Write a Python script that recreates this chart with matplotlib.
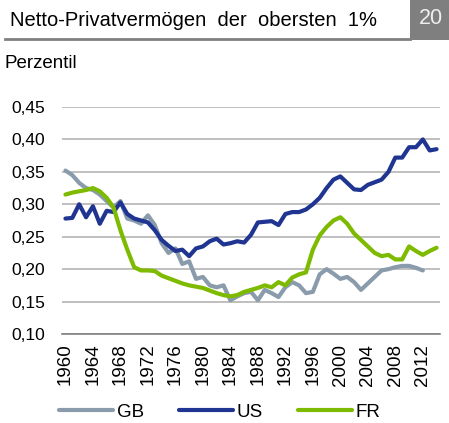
import matplotlib.pyplot as plt
from matplotlib.patches import Rectangle
from matplotlib.lines import Line2D

plt.rcParams["font.family"] = ["Liberation Sans", "DejaVu Sans"]

years = list(range(1960, 2015))

us = [0.278, 0.279, 0.300, 0.280, 0.297, 0.270, 0.290, 0.288, 0.303, 0.285,
      0.278, 0.275, 0.272, 0.260, 0.245, 0.236, 0.228, 0.230, 0.220, 0.232,
      0.235, 0.243, 0.247, 0.238, 0.240, 0.243, 0.241, 0.253, 0.272, 0.273,
      0.274, 0.268, 0.285, 0.288, 0.288, 0.292, 0.300, 0.310, 0.325, 0.338,
      0.343, 0.333, 0.323, 0.322, 0.330, 0.334, 0.338, 0.350, 0.372, 0.372,
      0.388, 0.388, 0.400, 0.383, 0.385]

gb = [0.352, 0.345, 0.333, 0.325, 0.322, 0.315, 0.305, 0.295, 0.305, 0.278,
      0.275, 0.270, 0.283, 0.268, 0.240, 0.225, 0.232, 0.208, 0.212, 0.185,
      0.188, 0.175, 0.172, 0.175, 0.152, 0.158, 0.163, 0.165, 0.152, 0.168,
      0.163, 0.157, 0.172, 0.180, 0.175, 0.163, 0.165, 0.192, 0.200, 0.193,
      0.185, 0.188, 0.180, 0.168, 0.178, 0.188, 0.198, 0.200, 0.203, 0.205,
      0.205, 0.202, 0.198]

fr = [0.315, 0.318, 0.320, 0.322, 0.325, 0.320, 0.310, 0.295, 0.260, 0.230,
      0.203, 0.198, 0.198, 0.197, 0.190, 0.186, 0.182, 0.178, 0.175, 0.173,
      0.171, 0.167, 0.163, 0.160, 0.158, 0.160, 0.165, 0.168, 0.171, 0.175,
      0.172, 0.180, 0.175, 0.187, 0.192, 0.195, 0.230, 0.252, 0.265, 0.275,
      0.280, 0.270, 0.255, 0.245, 0.235, 0.225, 0.220, 0.222, 0.215, 0.215,
      0.235, 0.228, 0.222, 0.228, 0.233]

yticks = [0.10, 0.15, 0.20, 0.25, 0.30, 0.35, 0.40, 0.45]
xticks = list(range(1960, 2013, 4))

c_gb = "#8a9bab"
c_us = "#1f3591"
c_fr = "#7dba00"

fig = plt.figure(figsize=(4.49, 4.23), dpi=100)
ax = fig.add_axes([62 / 449, 1 - 334 / 423, 378 / 449, 227 / 423])

ax.plot(years[:len(gb)], gb, color=c_gb, lw=3, solid_capstyle="round", label="GB")
ax.plot(years, us, color=c_us, lw=3, solid_capstyle="round", label="US")
ax.plot(years, fr, color=c_fr, lw=3, solid_capstyle="round", label="FR")

ax.set_xlim(1959.5, 2014.5)
ax.set_ylim(0.10, 0.45)
ax.set_yticks(yticks)
ax.set_yticklabels([f"{v:.2f}".replace(".", ",") for v in yticks], fontsize=12.5)
ax.set_xticks(xticks)
ax.set_xticklabels([str(y) for y in xticks], rotation=90, fontsize=13.5)
ax.tick_params(axis="y", length=0, pad=12)
ax.tick_params(axis="x", length=0, pad=7)
ax.grid(axis="y", color="#b4b4b4", lw=1.2)
ax.set_axisbelow(True)
for s in ["top", "right", "left"]:
    ax.spines[s].set_visible(False)
ax.spines["bottom"].set_color("#808080")
ax.spines["bottom"].set_linewidth(1.2)
for ln in ax.lines:
    ln.set_clip_on(False)

# title band
fig.text(10 / 449, 1 - 21 / 423, "Netto-Privatvermögen  der  obersten  1%",
         fontsize=14.5, va="center", ha="left")
fig.add_artist(Line2D([5 / 449, 410 / 449], [1 - 39 / 423, 1 - 39 / 423],
                      color="#808080", lw=2))
fig.add_artist(Rectangle((410 / 449, 1 - 40 / 423), 39 / 449, 40 / 423,
                         transform=fig.transFigure, color="#7f7f7f", lw=0))
fig.text(431 / 449, 1 - 18 / 423, "20", fontsize=15.5, color="#eeeeee",
         ha="center", va="center")
fig.text(5 / 449, 1 - 63 / 423, "Perzentil", fontsize=13.5, va="center", ha="left")

fig.legend(loc="center", bbox_to_anchor=(220 / 449, 1 - 412 / 423), ncol=3,
           frameon=False, fontsize=13.5, handlelength=2.85, handletextpad=0.2,
           columnspacing=1.9)

fig.savefig("out.png", dpi=100)
